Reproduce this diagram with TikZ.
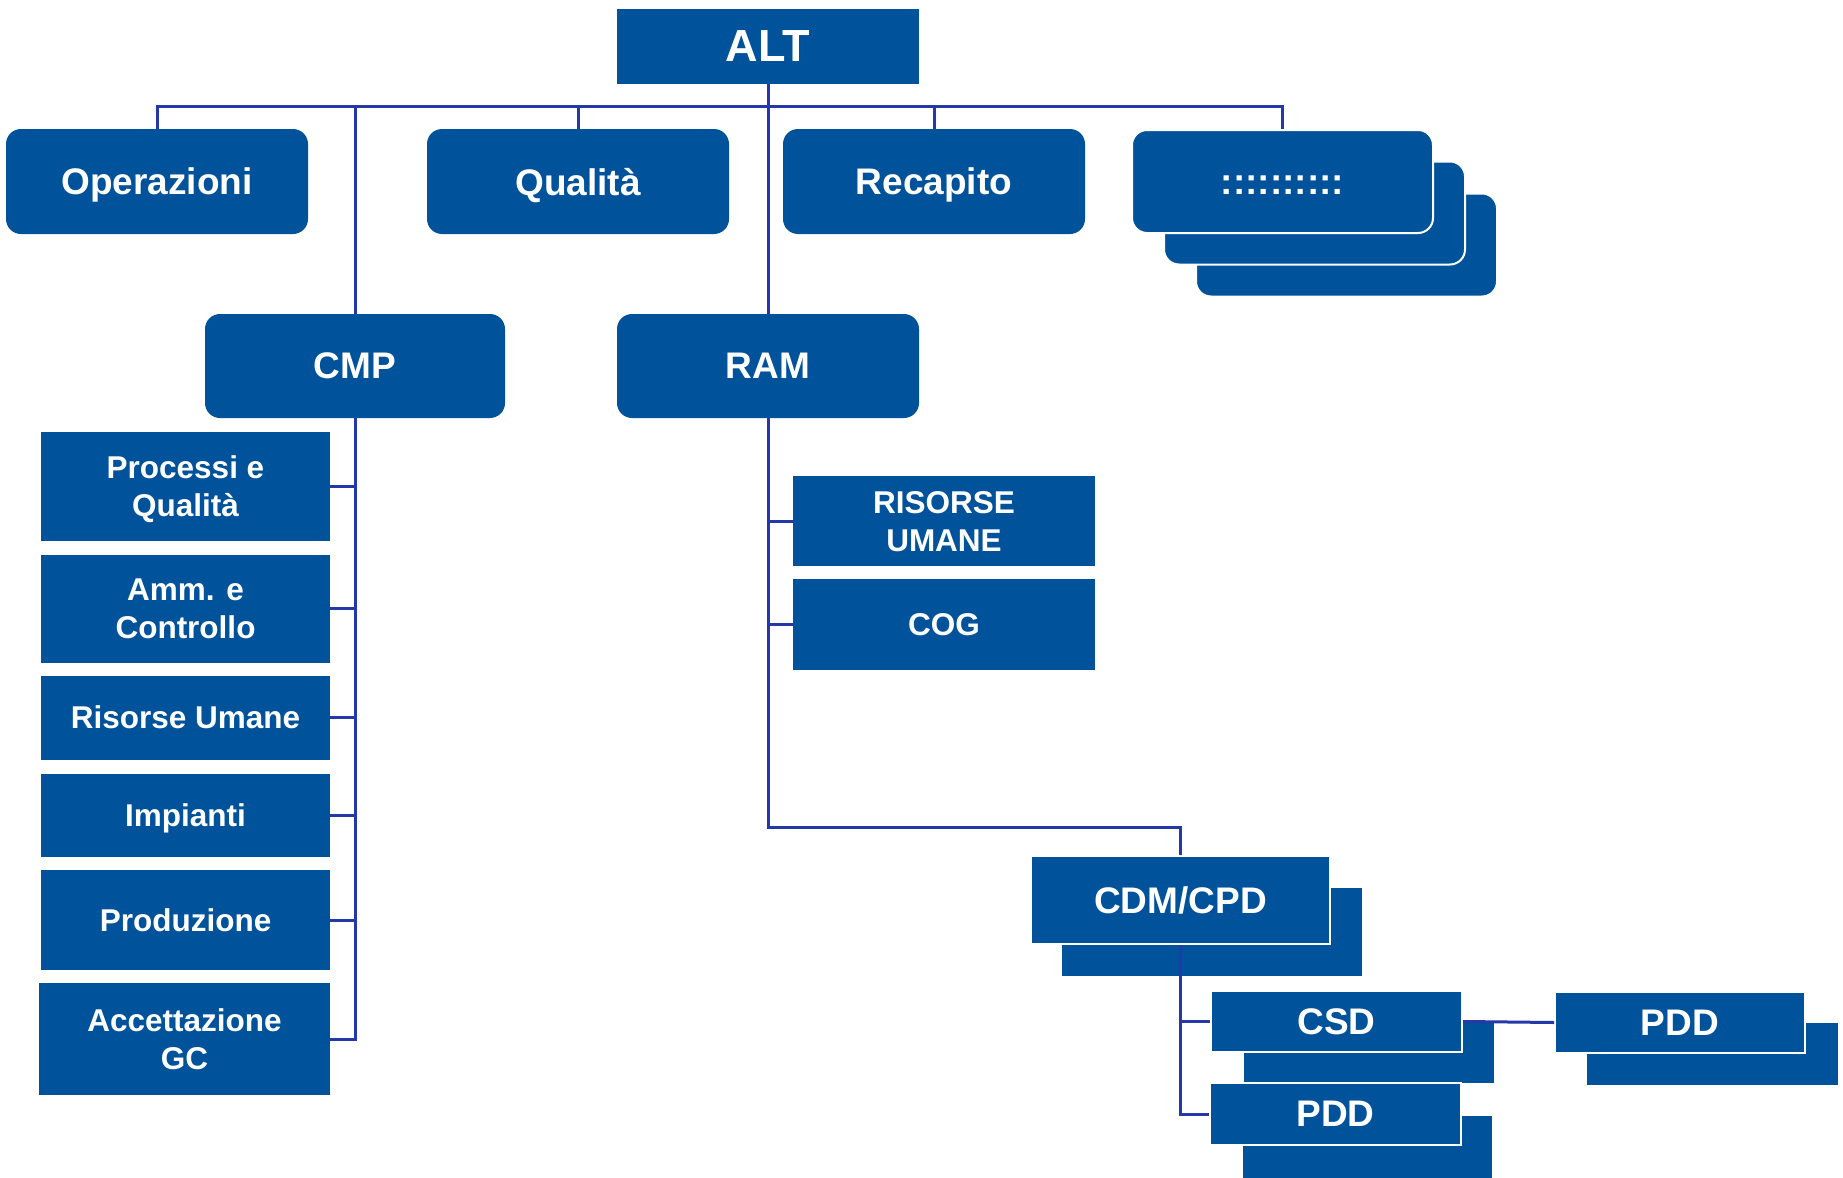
\documentclass[tikz,border=0pt]{standalone}
\usepackage{fontspec}
\setmainfont{Liberation Sans}
\definecolor{boxblue}{RGB}{0,82,155}
\definecolor{linkblue}{RGB}{36,56,168}
\tikzset{
  unit/.style={fill=boxblue, text=white, inner sep=0pt, align=center, text depth=0pt},
  rnd/.style={unit, rounded corners=7.5pt},
  outlined/.style={draw=white, line width=1pt},
  big/.style={font=\fontsize{22.5}{27}\selectfont\bfseries},
  mid/.style={font=\fontsize{18.5}{22}\selectfont\bfseries},
  sml/.style={font=\fontsize{15.75}{19}\selectfont\bfseries},
  link/.style={draw=linkblue, line width=1.5pt},
}
\begin{document}
\begin{tikzpicture}[x=0.5pt,y=-0.5pt]
\useasboundingbox (0,0) rectangle (1843,1178);

% top level
\node[unit, big, minimum width=151pt, minimum height=37.5pt] (alt) at (768,46.5) {ALT};

% second level, rounded
\node[rnd, mid, minimum width=151pt, minimum height=52.5pt] (op) at (157,181.5) {Operazioni};
\node[rnd, mid, minimum width=151pt, minimum height=52.5pt] (qual) at (578,181.5) {Qualità};
\node[rnd, mid, minimum width=151pt, minimum height=52.5pt] (rec) at (934,181.5) {Recapito};
\node[rnd, outlined, minimum width=150.5pt, minimum height=51.5pt] (stackc) at (1346.5,245) {};
\node[rnd, outlined, minimum width=150.5pt, minimum height=51.5pt] (stackb) at (1314.5,213) {};
\node[rnd, outlined, mid, text height=13.3pt, minimum width=150.5pt, minimum height=51.5pt] (stacka) at (1282.5,181.5) {::::::::::};

% third level
\node[rnd, mid, minimum width=150pt, minimum height=52pt] (cmp) at (355,366) {CMP};
\node[rnd, mid, minimum width=151pt, minimum height=52pt] (ram) at (768,366) {RAM};

% CMP units
\node[unit, sml, minimum width=144.5pt, minimum height=54.5pt] (pq) at (185.5,486.5) {Processi e\\Qualità};
\node[unit, sml, minimum width=144.5pt, minimum height=54pt] (amm) at (185.5,608.5) {Amm. e\\Controllo};
\node[unit, sml, minimum width=144.5pt, minimum height=42pt] (ru) at (185.5,717.5) {Risorse Umane};
\node[unit, sml, minimum width=144.5pt, minimum height=41.5pt] (imp) at (185.5,815) {Impianti};
\node[unit, sml, minimum width=144.5pt, minimum height=50pt] (prod) at (185.5,920) {Produzione};
\node[unit, sml, minimum width=145.5pt, minimum height=56pt] (acc) at (184.5,1039) {Accettazione\\GC};

% RAM units
\node[unit, sml, minimum width=151pt, minimum height=45pt] (rum) at (944,521) {RISORSE\\UMANE};
\node[unit, sml, minimum width=151pt, minimum height=45.5pt] (cog) at (944,624.5) {COG};

% CDM/CPD branch with backing sheets
\node[unit, minimum width=150pt, minimum height=44pt] (cdmback) at (1212,932) {};
\node[unit, outlined, mid, minimum width=149.5pt, minimum height=44pt] (cdm) at (1180.5,900) {CDM/CPD};
\node[unit, minimum width=125pt, minimum height=30pt] (csdback) at (1369,1053) {};
\node[unit, outlined, mid, minimum width=125.5pt, minimum height=30.5pt] (csd) at (1336.5,1021.5) {CSD};
\node[unit, minimum width=124.5pt, minimum height=31pt] (pddbback) at (1367.5,1147) {};
\node[unit, outlined, mid, minimum width=125.5pt, minimum height=31pt] (pddb) at (1335.5,1114) {PDD};
\node[unit, minimum width=125.5pt, minimum height=31pt] (pddrback) at (1712.5,1054) {};
\node[unit, outlined, mid, minimum width=125pt, minimum height=30.5pt] (pddr) at (1680,1022.5) {PDD};

% connectors
\coordinate (bus) at (768,106);
\coordinate (lvl) at (0,827);
\draw[link] (op.north) |- (bus) -| (stacka.north);
\draw[link] (qual.north) -- (qual.north |- bus);
\draw[link] (rec.north) -- (rec.north |- bus);
\draw[link] (cmp.north) -- (cmp.north |- bus);
\draw[link] (alt.south) -- (ram.north);

\draw[link] (cmp.south) -- (cmp.south |- acc.east) -- (acc.east);
\foreach \u in {pq,amm,ru,imp,prod}
  \draw[link] (\u.east) -- (\u.east -| cmp.south);

\draw[link] (ram.south) -- (ram.south |- lvl) -| (cdm.north);
\draw[link] (rum.west) -- (rum.west -| ram.south);
\draw[link] (cog.west) -- (cog.west -| ram.south);

\draw[link] (cdm.south) -- (cdm.south |- pddb.west) -- (pddb.west);
\draw[link] (csd.west) -- (csd.west -| cdm.south);
\draw[link] (csd.east) -- (pddr.west);
\end{tikzpicture}
\end{document}
